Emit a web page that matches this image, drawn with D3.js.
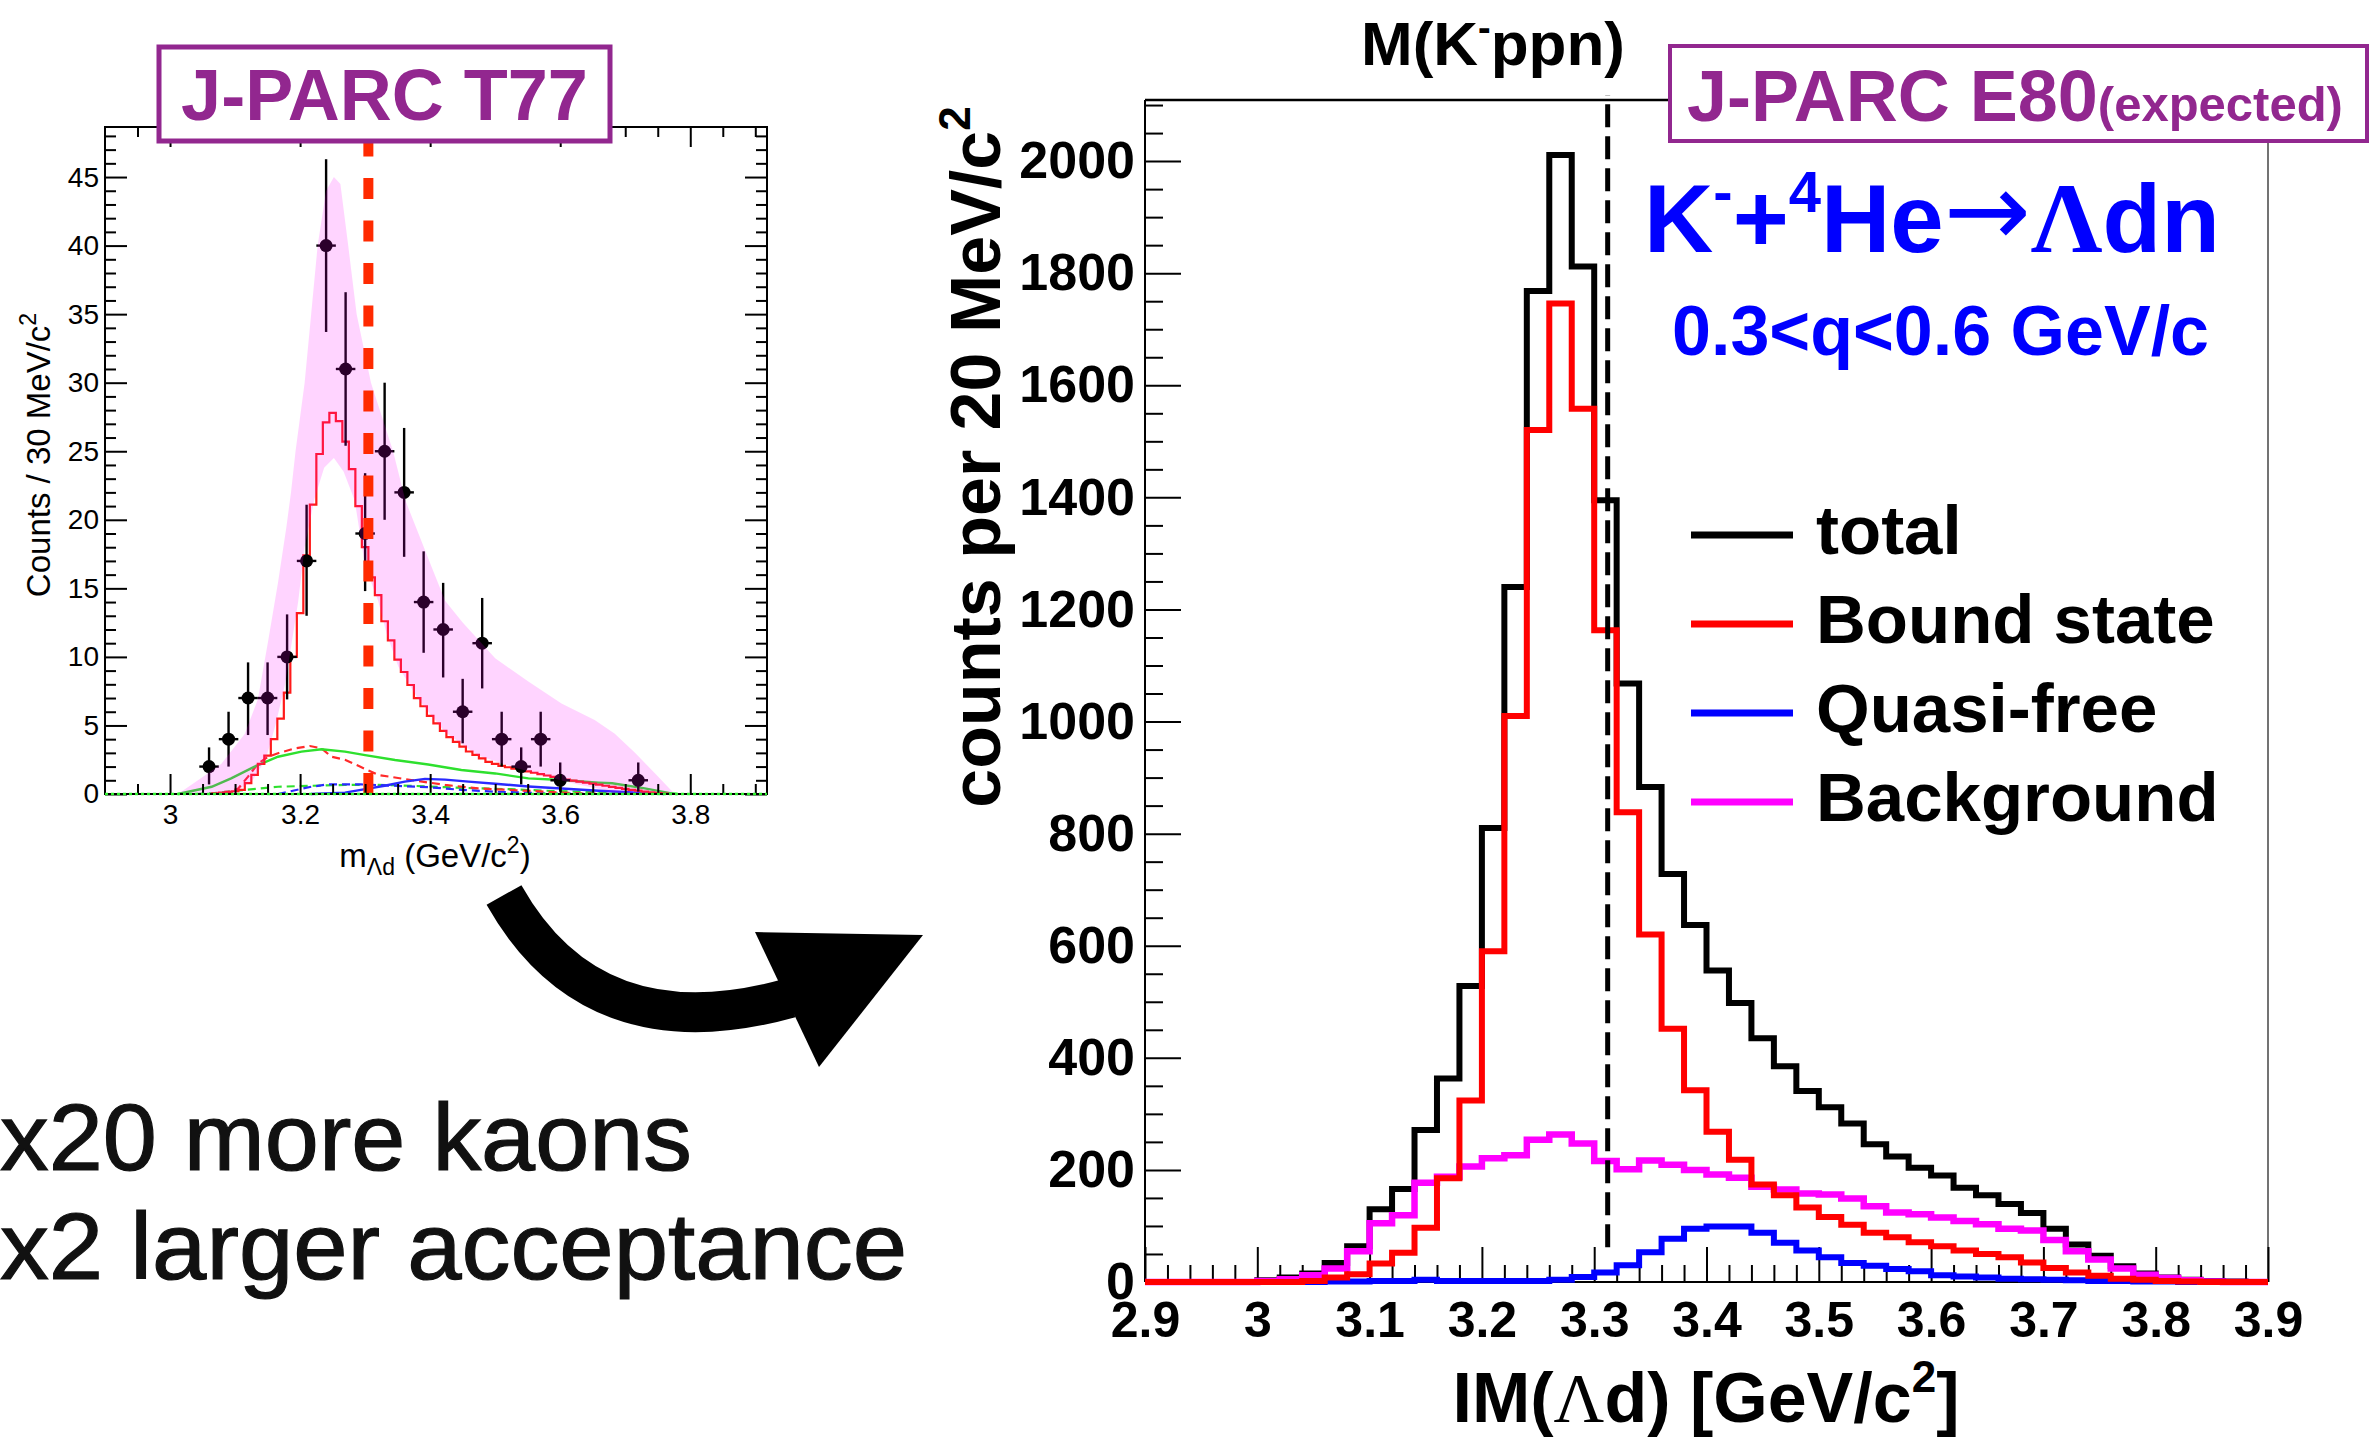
<!DOCTYPE html>
<html>
<head>
<meta charset="utf-8">
<script src="https://cdn.jsdelivr.net/npm/d3@7"></script>
<style>
  body { margin: 0; background: #fff; }
  svg { display: block; }
  text { font-family: "Liberation Sans", Arial, Helvetica, sans-serif; }
</style>
</head>
<body>
<script>
// ---------------- T77: measured Λd invariant mass (counts / 30 MeV/c^2) ----------------
const t77Mass   = [3.06, 3.09, 3.12, 3.15, 3.18, 3.21, 3.24, 3.27, 3.30, 3.33, 3.36, 3.39, 3.42, 3.45, 3.48, 3.51, 3.54, 3.57, 3.60, 3.72];
const t77Counts = [2, 4, 7, 7, 10, 17, 40, 31, 19, 25, 22, 14, 12, 6, 11, 4, 2, 4, 1, 1];
const t77ErrLo  = [0.7, 2.0, 4.3, 4.3, 6.9, 13.0, 33.7, 25.4, 14.8, 20.0, 17.3, 10.3, 8.5, 3.7, 7.7, 2.0, 0.7, 2.0, 0.17, 0.17];
const t77ErrHi  = [3.4, 6.0, 9.6, 9.6, 13.1, 21.1, 46.3, 36.6, 23.4, 30.0, 26.7, 17.7, 15.4, 8.4, 14.3, 6.0, 3.4, 6.0, 2.3, 2.3];

// fitted bound-state shape, 10 MeV bins starting at t77FitStart
const t77FitStart = 3.065;
const t77FitBin = 0.01;
const t77FitCounts = [0.05, 0.1, 0.15, 0.2, 0.3, 0.8, 1.4, 2.2, 2.8, 4.0,
  5.5, 7.4, 10.0, 13.2, 17.4, 21.1, 24.8, 27.1, 27.8, 27.2,
  25.7, 23.7, 21.0, 18.0, 15.8, 14.5, 12.6, 11.2, 9.8, 8.9,
  7.95, 7.0, 6.4, 5.7, 5.15, 4.6, 4.15, 3.8, 3.45, 3.1,
  2.85, 2.6, 2.35, 2.2, 2.05, 1.95, 1.85, 1.75, 1.65, 1.55,
  1.45, 1.35, 1.25, 1.15, 1.05, 0.97, 0.9, 0.83, 0.75, 0.68,
  0.6, 0.52, 0.45, 0.38, 0.3, 0.24, 0.18, 0.12, 0.07, 0.03];

// uncertainty band of the fit: [mass, counts]
const t77BandUpper = [[3.012, 0], [3.043, 1.0], [3.079, 2.2], [3.115, 4.4], [3.135, 6.9], [3.151, 11.2], [3.166, 15.4],
  [3.179, 19.5], [3.186, 22], [3.193, 25], [3.207, 30], [3.217, 35], [3.227, 40], [3.24, 44], [3.252, 45],
  [3.262, 44.5], [3.274, 40], [3.287, 35], [3.309, 30], [3.343, 25], [3.362, 21.4], [3.382, 19], [3.402, 16.6],
  [3.423, 14.1], [3.45, 12.5], [3.5, 9.9], [3.551, 8.2], [3.602, 6.6], [3.653, 5.4], [3.684, 4.4], [3.715, 3.0],
  [3.746, 1.5], [3.776, 0]];
const t77BandLower = [[3.097, 0], [3.127, 1], [3.147, 2.5], [3.162, 5], [3.177, 8], [3.187, 11], [3.197, 14],
  [3.207, 18], [3.222, 21.5], [3.237, 23.8], [3.252, 24.5], [3.267, 23.5], [3.284, 21.4], [3.292, 19], [3.300, 16.6],
  [3.32, 14.1], [3.333, 11.7], [3.351, 9.3], [3.382, 6.9], [3.423, 4.5], [3.474, 2.8], [3.525, 2.0], [3.576, 1.3],
  [3.627, 0.7], [3.657, 0.4], [3.687, 0]];

// other fit components: [mass, counts]
const t77GreenSolid = [[3.012, 0], [3.064, 0.53], [3.094, 1.14], [3.13, 2.0], [3.166, 2.72], [3.202, 3.09], [3.233, 3.26],
  [3.269, 3.09], [3.300, 2.84], [3.346, 2.48], [3.397, 2.15], [3.448, 1.75], [3.5, 1.5], [3.551, 1.14], [3.602, 1.02],
  [3.659, 0.83], [3.68, 0.78], [3.73, 0.41], [3.771, 0.05], [3.78, 0]];
const t77RedDashed = [[3.08, 0], [3.105, 0.4], [3.12, 1.27], [3.135, 2.2], [3.15, 2.7], [3.166, 2.97], [3.192, 3.33],
  [3.215, 3.5], [3.233, 3.33], [3.248, 2.72], [3.269, 2.5], [3.292, 2.0], [3.32, 1.39], [3.371, 1.02], [3.423, 0.66],
  [3.474, 0.41], [3.525, 0.29], [3.576, 0.17], [3.627, 0.05], [3.68, 0]];
const t77GreenDashed = [[3.04, 0], [3.064, 0.05], [3.115, 0.3], [3.166, 0.53], [3.217, 0.6], [3.269, 0.66], [3.32, 0.66],
  [3.371, 0.6], [3.423, 0.5], [3.474, 0.41], [3.525, 0.35], [3.576, 0.24], [3.627, 0.17], [3.7, 0.08], [3.78, 0]];
const t77BlueSolid = [[3.217, 0], [3.269, 0.1], [3.3, 0.36], [3.33, 0.6], [3.361, 0.9], [3.392, 1.1], [3.423, 1.05],
  [3.459, 0.9], [3.5, 0.75], [3.551, 0.55], [3.602, 0.4], [3.659, 0.24], [3.72, 0.1], [3.76, 0]];
const t77BlueDashed = [[3.166, 0], [3.217, 0.53], [3.243, 0.7], [3.294, 0.7], [3.345, 0.6], [3.397, 0.5], [3.448, 0.3],
  [3.5, 0.17], [3.576, 0.05], [3.65, 0]];

const t77XTicks = [3, 3.2, 3.4, 3.6, 3.8];
const t77YTicks = [0, 5, 10, 15, 20, 25, 30, 35, 40, 45];
const t77Threshold = 3.305;

// ---------------- E80: expected spectrum (counts / 20 MeV/c^2) ----------------
const e80Start = 2.9;
const e80Bin = 0.02;
const e80Total = [0, 0, 0, 0, 0, 3, 8, 15, 34, 64, 130, 166, 271, 363, 528, 810, 1240, 1768, 2011, 1812,
  1395, 1068, 883, 728, 637, 556, 498, 435, 385, 341, 312, 283, 246, 224, 204, 190, 168, 155, 139, 123,
  95, 67, 47, 28, 15, 8, 4, 2, 1, 0];
const e80Bound = [0, 0, 0, 0, 0, 0, 0, 2, 8, 14, 33, 52, 97, 185, 324, 590, 1010, 1520, 1746, 1558,
  1163, 838, 620, 452, 342, 268, 218, 174, 155, 133, 116, 102, 88, 80, 71, 64, 56, 50, 44, 35,
  25, 17, 11, 6, 4, 2, 1, 0, 0, 0];
const e80QuasiFree = [0, 0, 0, 0, 0, 0, 0, 0, 1, 1, 2, 2, 4, 2, 2, 2, 2, 2, 4, 9,
  17, 30, 53, 77, 95, 99, 99, 88, 70, 56, 44, 34, 29, 23, 19, 12, 10, 8, 6, 5,
  4, 3, 2, 2, 1, 1, 0, 0, 0, 0];
const e80Background = [0, 0, 0, 0, 0, 2, 5, 12, 24, 55, 105, 119, 177, 188, 206, 221, 226, 254, 263, 247,
  216, 201, 217, 209, 200, 192, 186, 170, 165, 158, 156, 149, 135, 124, 121, 115, 109, 103, 95, 92,
  75, 55, 40, 24, 13, 7, 3, 1, 0, 0];

const e80XTicks = [2.9, 3, 3.1, 3.2, 3.3, 3.4, 3.5, 3.6, 3.7, 3.8, 3.9];
const e80YTicks = [0, 200, 400, 600, 800, 1000, 1200, 1400, 1600, 1800, 2000];
const e80Threshold = 3.312;

const legendLabels = ["total", "Bound state", "Quasi-free", "Background"];
const legendColors = ["#000000", "#ff0000", "#0000ff", "#ff00ff"];

// ---------------- drawing ----------------
const W = 2370, H = 1443;
const PURPLE = "#92278f";
const svg = d3.select("body").append("svg").attr("width", W).attr("height", H);
svg.append("rect").attr("width", W).attr("height", H).attr("fill", "#fff");

// ===== left panel (T77) =====
const xL = d3.scaleLinear().domain([2.9, 3.918]).range([105, 767]);
const yL = d3.scaleLinear().domain([0, 48.65]).range([794, 127]);
const gL = svg.append("g");

const lineL = d3.line().x(d => xL(d[0])).y(d => yL(d[1]));

// step outline for a binned histogram
function stepPoints(start, width, values) {
  const pts = [[start, 0]];
  values.forEach((v, i) => pts.push([start + i * width, v]));
  pts.push([start + values.length * width, values[values.length - 1]]);
  pts.push([start + values.length * width, 0]);
  return pts;
}
const stepL = d3.line().curve(d3.curveStepAfter).x(d => xL(d[0])).y(d => yL(d[1]));

// fit components
gL.append("path").attr("d", lineL(t77GreenDashed)).attr("fill", "none")
  .attr("stroke", "#2ee02e").attr("stroke-width", 2.2).attr("stroke-dasharray", "8,5");
gL.append("path").attr("d", lineL(t77BlueDashed)).attr("fill", "none")
  .attr("stroke", "#2a2aff").attr("stroke-width", 2.2).attr("stroke-dasharray", "8,5");
gL.append("path").attr("d", lineL(t77RedDashed)).attr("fill", "none")
  .attr("stroke", "#ff2a2a").attr("stroke-width", 2.2).attr("stroke-dasharray", "8,5");
gL.append("path").attr("d", lineL(t77BlueSolid)).attr("fill", "none")
  .attr("stroke", "#2a2aff").attr("stroke-width", 2.4);
gL.append("path").attr("d", lineL(t77GreenSolid)).attr("fill", "none")
  .attr("stroke", "#2ee02e").attr("stroke-width", 2.4);
gL.append("path").attr("d", stepL(stepPoints(t77FitStart, t77FitBin, t77FitCounts))).attr("fill", "none")
  .attr("stroke", "#ff1a1a").attr("stroke-width", 2.2);

// data points with error bars
const pts = t77Mass.map((m, i) => ({ m, c: t77Counts[i], lo: t77ErrLo[i], hi: t77ErrHi[i] }));
const gp = gL.append("g").attr("stroke", "#000").attr("stroke-width", 2.4);
gp.selectAll("line.v").data(pts).join("line").attr("class", "v")
  .attr("x1", d => xL(d.m)).attr("x2", d => xL(d.m))
  .attr("y1", d => yL(d.lo)).attr("y2", d => yL(d.hi));
gp.selectAll("line.h").data(pts).join("line").attr("class", "h")
  .attr("x1", d => xL(d.m - 0.015)).attr("x2", d => xL(d.m + 0.015))
  .attr("y1", d => yL(d.c)).attr("y2", d => yL(d.c));
gL.selectAll("circle.pt").data(pts).join("circle").attr("class", "pt")
  .attr("cx", d => xL(d.m)).attr("cy", d => yL(d.c)).attr("r", 6.5).attr("fill", "#000");

// translucent uncertainty band on top
const bandPath = lineL(t77BandUpper) + lineL(t77BandLower.slice().reverse()).replace(/^M/, "L") + "Z";
gL.append("path").attr("d", bandPath).attr("fill", "#ff00ff").attr("fill-opacity", 0.17);

// threshold line
gL.append("line").attr("x1", xL(t77Threshold)).attr("x2", xL(t77Threshold))
  .attr("y1", yL(0)).attr("y2", yL.range()[1])
  .attr("stroke", "#ff2a00").attr("stroke-width", 10).attr("stroke-dasharray", "21,21.5");

// frame + axes
gL.append("rect").attr("x", 105).attr("y", 127).attr("width", 662).attr("height", 667)
  .attr("fill", "none").attr("stroke", "#000").attr("stroke-width", 2);

function styleAxis(g, opts) {
  g.select(".domain").remove();
  g.selectAll(".tick line").attr("stroke", "#000").attr("stroke-width", opts.tw || 2);
  g.attr("font-family", opts.family || "Liberation Sans, Arial, sans-serif")
   .attr("font-size", opts.size || 10).attr("font-weight", opts.weight || "normal");
  g.selectAll(".tick text").attr("fill", "#000");
}
const xMinorL = d3.range(59, 79).map(k => k * 0.05).filter(v => !t77XTicks.some(t => Math.abs(t - v) < 1e-6) && v < 3.918);
const yMinorL = d3.range(0, 49).filter(v => v % 5 !== 0);
const fmt = d3.format("~g");

gL.append("g").attr("transform", "translate(0,794)")
  .call(d3.axisBottom(xL).tickValues(t77XTicks).tickSize(-20).tickPadding(10).tickFormat(fmt))
  .call(g => styleAxis(g, { size: 28 }));
gL.append("g").attr("transform", "translate(0,794)")
  .call(d3.axisBottom(xL).tickValues(xMinorL).tickSize(-10).tickFormat(""))
  .call(g => styleAxis(g, {}));
gL.append("g").attr("transform", "translate(0,127)")
  .call(d3.axisTop(xL).tickValues(t77XTicks).tickSize(-20).tickFormat(""))
  .call(g => styleAxis(g, {}));
gL.append("g").attr("transform", "translate(0,127)")
  .call(d3.axisTop(xL).tickValues(xMinorL).tickSize(-10).tickFormat(""))
  .call(g => styleAxis(g, {}));
gL.append("g").attr("transform", "translate(105,0)")
  .call(d3.axisLeft(yL).tickValues(t77YTicks).tickSize(-22).tickPadding(6).tickFormat(fmt))
  .call(g => styleAxis(g, { size: 28 }));
gL.append("g").attr("transform", "translate(105,0)")
  .call(d3.axisLeft(yL).tickValues(yMinorL).tickSize(-11).tickFormat(""))
  .call(g => styleAxis(g, {}));
gL.append("g").attr("transform", "translate(767,0)")
  .call(d3.axisRight(yL).tickValues(t77YTicks).tickSize(-22).tickFormat(""))
  .call(g => styleAxis(g, {}));
gL.append("g").attr("transform", "translate(767,0)")
  .call(d3.axisRight(yL).tickValues(yMinorL).tickSize(-11).tickFormat(""))
  .call(g => styleAxis(g, {}));

// dotted zero baseline of the fit
gL.append("line").attr("x1", xL(2.9)).attr("x2", xL(3.918)).attr("y1", yL(0)).attr("y2", yL(0))
  .attr("stroke", "#2ef02e").attr("stroke-width", 2.5).attr("stroke-dasharray", "3,3");

// axis titles
const xtL = gL.append("text").attr("x", 435).attr("y", 867).attr("text-anchor", "middle")
  .attr("font-size", 33).attr("fill", "#000");
xtL.append("tspan").text("m");
xtL.append("tspan").attr("font-size", 23).attr("dy", 8).text("Λd");
xtL.append("tspan").attr("dy", -8).text(" (GeV/c");
xtL.append("tspan").attr("font-size", 23).attr("dy", -14).text("2");
xtL.append("tspan").attr("dy", 14).text(")");

const ytL = gL.append("text").attr("transform", "translate(50,455) rotate(-90)").attr("text-anchor", "middle")
  .attr("font-size", 33).attr("fill", "#000");
ytL.append("tspan").text("Counts / 30 MeV/c");
ytL.append("tspan").attr("font-size", 23).attr("dy", -14).text("2");

// title box
gL.append("rect").attr("x", 159).attr("y", 47).attr("width", 451).attr("height", 94)
  .attr("fill", "#fff").attr("stroke", PURPLE).attr("stroke-width", 5);
gL.append("text").attr("x", 384.5).attr("y", 120).attr("text-anchor", "middle")
  .attr("font-size", 72).attr("font-weight", "bold").attr("fill", PURPLE).text("J-PARC T77");

// ===== arrow and notes =====
svg.append("path").attr("d", "M504,895 Q593,1053 790,998")
  .attr("fill", "none").attr("stroke", "#000").attr("stroke-width", 40);
svg.append("path").attr("d", "M755,932 L923,935 L819,1067 Z").attr("fill", "#000");

svg.append("text").attr("x", 0).attr("y", 1170).attr("font-family", "DejaVu Sans, sans-serif")
  .attr("font-size", 95).attr("fill", "#111").attr("stroke", "#111").attr("stroke-width", 1.2)
  .attr("textLength", 692).attr("lengthAdjust", "spacingAndGlyphs").text("x20 more kaons");
svg.append("text").attr("x", 0).attr("y", 1279).attr("font-family", "DejaVu Sans, sans-serif")
  .attr("font-size", 95).attr("fill", "#111").attr("stroke", "#111").attr("stroke-width", 1.2)
  .attr("textLength", 907).attr("lengthAdjust", "spacingAndGlyphs").text("x2 larger acceptance");

// ===== right panel (E80) =====
const xR = d3.scaleLinear().domain([2.9, 3.9]).range([1145, 2268]);
const yR = d3.scaleLinear().domain([0, 2109]).range([1282, 100]);
const gR = svg.append("g");
const stepR = d3.line().curve(d3.curveStepAfter).x(d => xR(d[0])).y(d => yR(d[1]));

// frame: left, bottom, top (up to the box) and a thin right edge
gR.append("line").attr("x1", 1145).attr("x2", 1145).attr("y1", 100).attr("y2", 1282).attr("stroke", "#000").attr("stroke-width", 2);
gR.append("line").attr("x1", 1145).attr("x2", 2268).attr("y1", 1282).attr("y2", 1282).attr("stroke", "#000").attr("stroke-width", 2);
gR.append("line").attr("x1", 1145).attr("x2", 1672).attr("y1", 100).attr("y2", 100).attr("stroke", "#000").attr("stroke-width", 2.5);
gR.append("line").attr("x1", 2268).attr("x2", 2268).attr("y1", 141).attr("y2", 1282).attr("stroke", "#444").attr("stroke-width", 1.5);

const xMinorR = d3.range(145, 196).map(k => k * 0.02).filter(v => !e80XTicks.some(t => Math.abs(t - v) < 1e-6));
const yMinorR = d3.range(0, 2101, 50).filter(v => v % 200 !== 0);

gR.append("g").attr("transform", "translate(0,1282)")
  .call(d3.axisBottom(xR).tickValues(e80XTicks).tickSize(-35).tickPadding(19).tickFormat(fmt))
  .call(g => styleAxis(g, { size: 50, weight: "bold" }));
gR.append("g").attr("transform", "translate(0,1282)")
  .call(d3.axisBottom(xR).tickValues(xMinorR).tickSize(-17).tickFormat(""))
  .call(g => styleAxis(g, {}));
gR.append("g").attr("transform", "translate(1145,0)")
  .call(d3.axisLeft(yR).tickValues(e80YTicks).tickSize(-36).tickPadding(10).tickFormat(fmt))
  .call(g => styleAxis(g, { size: 52, weight: "bold" }));
gR.append("g").attr("transform", "translate(1145,0)")
  .call(d3.axisLeft(yR).tickValues(yMinorR).tickSize(-18).tickFormat(""))
  .call(g => styleAxis(g, {}));

// histograms
const series = [
  { v: e80Total, c: "#000000", w: 6 },
  { v: e80QuasiFree, c: "#0000ff", w: 6 },
  { v: e80Background, c: "#ff00ff", w: 6.5 },
  { v: e80Bound, c: "#ff0000", w: 6 }
];
series.forEach(s => {
  gR.append("path").attr("d", stepR(stepPoints(e80Start, e80Bin, s.v)))
    .attr("fill", "none").attr("stroke", s.c).attr("stroke-width", s.w).attr("stroke-linejoin", "miter");
});

// threshold line
gR.append("line").attr("x1", xR(e80Threshold)).attr("x2", xR(e80Threshold))
  .attr("y1", yR(62)).attr("y2", 95)
  .attr("stroke", "#000").attr("stroke-width", 5).attr("stroke-dasharray", "23,9");

// axis titles
const xtR = gR.append("text").attr("x", 1706).attr("y", 1422).attr("text-anchor", "middle")
  .attr("font-size", 70).attr("font-weight", "bold").attr("fill", "#000");
xtR.append("tspan").text("IM(");
xtR.append("tspan").attr("font-family", "Liberation Serif, serif").attr("font-weight", "normal").text("Λ");
xtR.append("tspan").text("d) [GeV/c");
xtR.append("tspan").attr("font-size", 44).attr("dy", -30).text("2");
xtR.append("tspan").attr("dy", 30).text("]");

const ytR = gR.append("text").attr("transform", "translate(1000,457) rotate(-90)").attr("text-anchor", "middle")
  .attr("font-size", 70).attr("font-weight", "bold").attr("fill", "#000");
ytR.append("tspan").text("counts per 20 MeV/c");
ytR.append("tspan").attr("font-size", 44).attr("dy", -30).text("2");

// title over the panel
const ttl = gR.append("text").attr("x", 1493).attr("y", 65).attr("text-anchor", "middle")
  .attr("font-size", 62).attr("font-weight", "bold").attr("fill", "#000");
ttl.append("tspan").text("M(K");
ttl.append("tspan").attr("font-size", 38).attr("dy", -24).text("-");
ttl.append("tspan").attr("dy", 24).text("ppn)");

// experiment box
gR.append("rect").attr("x", 1670).attr("y", 46).attr("width", 697).attr("height", 95)
  .attr("fill", "#fff").attr("stroke", PURPLE).attr("stroke-width", 4);
const bx = gR.append("text").attr("x", 1687).attr("y", 121)
  .attr("font-size", 72).attr("font-weight", "bold").attr("fill", PURPLE);
bx.append("tspan").text("J-PARC E80");
bx.append("tspan").attr("font-size", 49).text("(expected)");

// reaction label
const rx = gR.append("text").attr("x", 1644).attr("y", 252)
  .attr("font-size", 96).attr("font-weight", "bold").attr("fill", "#0000ff");
rx.append("tspan").text("K");
rx.append("tspan").attr("font-size", 58).attr("dy", -40).text("-");
rx.append("tspan").attr("dy", 40).text("+");
rx.append("tspan").attr("font-size", 58).attr("dy", -40).text("4");
rx.append("tspan").attr("dy", 40).text("He");
rx.append("tspan").attr("font-family", "DejaVu Sans, sans-serif").attr("font-weight", "normal")
  .attr("font-size", 104).attr("dy", -6).text("→");
rx.append("tspan").attr("font-family", "Liberation Serif, serif").attr("font-size", 100).attr("dy", 6).text("Λ");
rx.append("tspan").text("dn");

gR.append("text").attr("x", 1672).attr("y", 355)
  .attr("font-size", 70).attr("font-weight", "bold").attr("fill", "#0000ff").text("0.3<q<0.6 GeV/c");

// legend
const lg = gR.append("g");
legendLabels.forEach((lab, i) => {
  const y = 535 + 89 * i;
  lg.append("line").attr("x1", 1691).attr("x2", 1793).attr("y1", y).attr("y2", y)
    .attr("stroke", legendColors[i]).attr("stroke-width", 7);
  lg.append("text").attr("x", 1816).attr("y", y + 19).attr("font-size", 69).attr("font-weight", "bold")
    .attr("fill", "#000").text(lab);
});
</script>
</body>
</html>
